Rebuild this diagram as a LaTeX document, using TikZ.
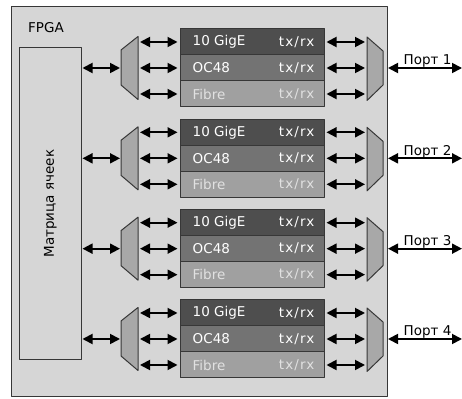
\documentclass[tikz,border=0pt]{standalone}
\usepackage{fontspec}
\setmainfont{DejaVu Sans}
\usetikzlibrary{arrows.meta,calc}
\definecolor{fpgabg}{RGB}{214,214,214}
\definecolor{edgec}{RGB}{55,55,55}
\definecolor{rowA}{RGB}{78,78,78}
\definecolor{rowB}{RGB}{115,115,115}
\definecolor{rowC}{RGB}{160,160,160}
\definecolor{muxc}{RGB}{168,168,168}
\definecolor{txtC}{RGB}{225,225,225}
\tikzset{blk/.style={draw=edgec,line width=1pt,minimum width=144pt,minimum height=26pt,inner sep=0pt}}
\tikzset{blktxt/.style={text=white,inner sep=0pt}}
\tikzset{trx/.style={blktxt,font=\fontsize{13.5}{15}\selectfont\addfontfeature{LetterSpace=8}}}
\tikzset{dbl/.style={{Triangle[length=10pt,width=10pt]}-{Triangle[length=10pt,width=10pt]},line width=1.8pt}}
\tikzset{mux/.style={draw=edgec,line width=1pt,fill=muxc}}

\begin{document}
\begin{tikzpicture}[x=1pt,y=-1pt,line join=round,font=\fontsize{13.5}{16}\selectfont]
\useasboundingbox (0,0) rectangle (462,398);
% --- FPGA frame and cell matrix
\draw[line width=1pt,draw=edgec,fill=fpgabg] (11,7) rectangle (387,396);
\node[anchor=base west,inner sep=0pt] (fpga) at (28,33) {FPGA};
\node[draw=edgec,line width=1pt,minimum width=61.5pt,minimum height=311pt,inner sep=0pt] (mat) at (50.25,203.5) {};
\node[rotate=90] (matlbl) at (mat.center) {Матрица ячеек};
% --- four port channels
\foreach \g in {1,...,4}{
  \pgfmathsetmacro{\t}{29+(\g-1)*90.33}
  \node[blk,fill=rowA] (ge\g) at (252,\t+13) {};
  \node[blk,fill=rowB] (oc\g) at (252,\t+39) {};
  \node[blk,fill=rowC] (fb\g) at (252,\t+65) {};
  \node[blktxt,anchor=west,xshift=13pt] (ge\g l) at (ge\g.west) {10 GigE};
  \node[trx,anchor=east,xshift=-10pt] (ge\g r) at (ge\g.east) {tx/rx};
  \node[blktxt,anchor=west,xshift=13pt] (oc\g l) at (oc\g.west) {OC48};
  \node[trx,anchor=east,xshift=-10pt] (oc\g r) at (oc\g.east) {tx/rx};
  \node[blktxt,text=txtC,anchor=west,xshift=13pt] (fb\g l) at (fb\g.west) {Fibre};
  \node[trx,text=txtC,anchor=east,xshift=-10pt] (fb\g r) at (fb\g.east) {tx/rx};
  % left mux
  \draw[mux] (138,\t+7.5) -- (121,\t+21) -- (121,\t+56) -- (138,\t+70.5) -- cycle;
  \coordinate (lml\g) at (121,\t+39); \coordinate (lmr\g) at (138,\t+39);
  % right mux
  \draw[mux] (367,\t+8) -- (383,\t+22) -- (383,\t+56) -- (367,\t+71.5) -- cycle;
  \coordinate (rml\g) at (367,\t+39); \coordinate (rmr\g) at (383,\t+39);
  \coordinate (pe\g) at (462,\t+39);
  % links
  \draw[dbl,shorten <=1pt,shorten >=1pt] (mat.east |- lml\g) -- (lml\g);
  \foreach \r in {ge,oc,fb}{
    \draw[dbl,shorten <=2pt,shorten >=2pt] (lmr\g |- \r\g) -- (\r\g.west);
    \draw[dbl,shorten <=2pt,shorten >=2pt] (\r\g.east) -- (rml\g |- \r\g);
  }
  \draw[dbl,shorten <=5pt] (rmr\g) -- (pe\g);
  \node[anchor=base,inner sep=0pt] (pl\g) at (427.5,\t+36) {Порт \g};
}
\end{tikzpicture}
\end{document}
